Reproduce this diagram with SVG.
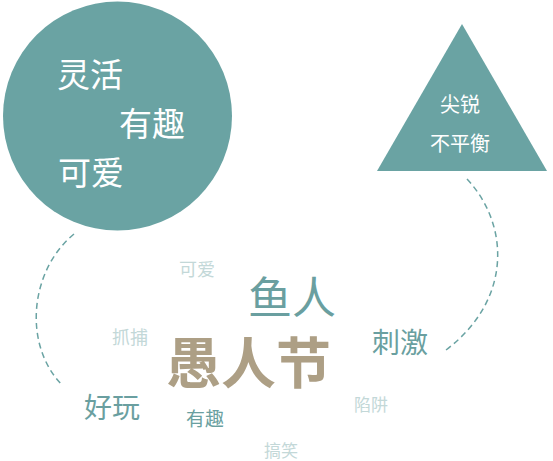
<svg xmlns="http://www.w3.org/2000/svg" width="553" height="461" viewBox="0 0 553 461">
<style>
text{font-family:"Noto Sans CJK SC","Noto Sans",sans-serif;}
.w{fill:#ffffff;}
.t{fill:#6a9fa0;}
.l{fill:#c3d8d8;}
.b{fill:#ad9f85;font-weight:bold;}
.dash{fill:none;stroke:#6aa3a3;stroke-width:1.5;stroke-dasharray:6 4;}
</style>
<rect width="553" height="461" fill="#ffffff"/>
<g id="connectors">
<path class="dash" d="M74,234 C30,270 22,345 63,386"/>
<path class="dash" d="M467,179 C510,225 512,300 446,350"/>
</g>
<g id="circle">
<circle cx="117.5" cy="116" r="114.5" fill="#6aa3a3"/>
<text class="w" x="57" y="87" font-size="33">灵活</text>
<text class="w" x="119" y="136" font-size="33">有趣</text>
<text class="w" x="58" y="185" font-size="33">可爱</text>
</g>
<g id="triangle">
<polygon points="462,24 547,171 377,171" fill="#6aa3a3"/>
<text class="w" x="460" y="112" font-size="20" text-anchor="middle">尖锐</text>
<text class="w" x="460" y="151" font-size="20" text-anchor="middle">不平衡</text>
</g>
<g id="words">
<text class="l" x="179" y="276" font-size="18">可爱</text>
<text class="t" x="248" y="314" font-size="44">鱼人</text>
<text class="l" x="112" y="344" font-size="18">抓捕</text>
<text class="b" x="166" y="383" font-size="55">愚人节</text>
<text class="t" x="84" y="418" font-size="28">好玩</text>
<text class="t" x="186" y="426" font-size="19">有趣</text>
<text class="l" x="264" y="457" font-size="17">搞笑</text>
<text class="t" x="372" y="353" font-size="28">刺激</text>
<text class="l" x="354" y="411" font-size="17">陷阱</text>
</g>
</svg>
